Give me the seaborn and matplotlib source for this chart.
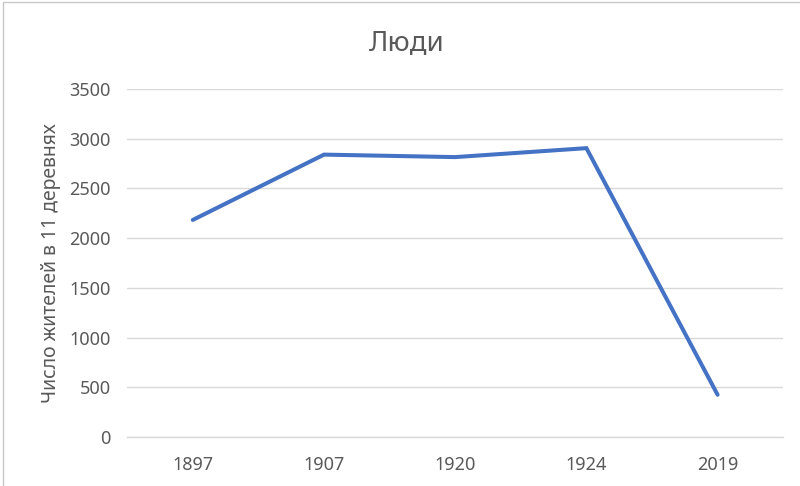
import pandas as pd
import matplotlib.pyplot as plt
import seaborn as sns
from matplotlib.patches import Rectangle

# Values
years = ["1897", "1907", "1920", "1924", "2019"]
people = [2183, 2840, 2815, 2905, 425]
yticks = [0, 500, 1000, 1500, 2000, 2500, 3000, 3500]

df = pd.DataFrame({"year": years, "people": people})

sns.set_style("white")
plt.rcParams["font.family"] = ["Noto Sans", "DejaVu Sans"]

fig = plt.figure(figsize=(8, 4.86), dpi=100)
ax = fig.add_axes([0.159, 0.1008, 0.82, 0.7161])

sns.lineplot(data=df, x="year", y="people", sort=False, color="#4472C4",
             linewidth=2.9, ax=ax, solid_capstyle="round", solid_joinstyle="miter")

ax.set_xlim(-0.5, len(years) - 0.5)
ax.set_ylim(0, 3500)
ax.set_yticks(yticks)
ax.yaxis.grid(True, color="#D9D9D9", linewidth=1.0)
ax.set_axisbelow(True)
for side in ["top", "right", "left"]:
    ax.spines[side].set_visible(False)
ax.spines["bottom"].set_color("#D9D9D9")
ax.spines["bottom"].set_linewidth(1.0)
ax.tick_params(axis="both", length=0, labelsize=13, labelcolor="#595959")
ax.tick_params(axis="y", pad=12)
ax.tick_params(axis="x", pad=14)
ax.set_xlabel("")
ax.set_ylabel("Число жителей в 11 деревнях", fontsize=14, color="#595959", va="center")
ax.yaxis.set_label_coords(-0.116, 0.5)

fig.text(0.508, 0.909, "Люди", ha="center", va="center", fontsize=20, color="#595959")

# chart border
fig.patches.append(Rectangle((0.004, -0.01), 1.2, 1.006, transform=fig.transFigure,
                             fill=False, edgecolor="#C8C8C8", linewidth=1.0))

fig.savefig("out.png", dpi=100)
